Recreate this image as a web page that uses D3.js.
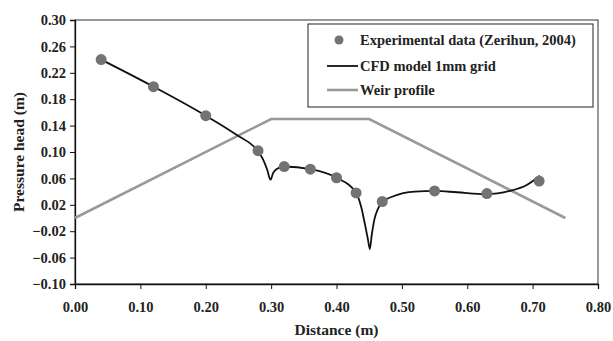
<!doctype html>
<html>
<head>
<meta charset="UTF-8">
<title>Pressure head</title>
<script src="https://cdn.jsdelivr.net/npm/d3@7"></script>
<style>
  body { margin: 0; background: #fff; }
  text { font-family: "Liberation Serif", "Times New Roman", serif; font-weight: bold; fill: #222; }
</style>
</head>
<body>
<svg width="613" height="341"></svg>
<script>
// experimental points
var expX = [0.04, 0.12, 0.20, 0.28, 0.32, 0.36, 0.40, 0.43, 0.47, 0.55, 0.63, 0.71];
var expY = [0.240, 0.199, 0.155, 0.102, 0.078, 0.074, 0.061, 0.038, 0.025, 0.041, 0.037, 0.056];

// CFD line
var cfdX = [0.04, 0.12, 0.20, 0.247, 0.28, 0.288, 0.294, 0.299, 0.303, 0.308, 0.32, 0.36, 0.40, 0.43, 0.438, 0.444, 0.448, 0.451, 0.454, 0.458, 0.463, 0.47, 0.487, 0.52, 0.55, 0.584, 0.628, 0.665, 0.691, 0.711];
var cfdY = [0.240, 0.199, 0.155, 0.126, 0.101, 0.088, 0.073, 0.058, 0.068, 0.074, 0.078, 0.074, 0.061, 0.038, 0.016, -0.012, -0.032, -0.047, -0.025, -0.002, 0.013, 0.024, 0.033, 0.040, 0.041, 0.039, 0.036, 0.041, 0.050, 0.064];

// weir outline
var weirX = [0.0, 0.30, 0.45, 0.75];
var weirY = [0.0, 0.15, 0.15, 0.0];

var xTicks = [0, 0.1, 0.2, 0.3, 0.4, 0.5, 0.6, 0.7, 0.8];
var yTicks = [-0.10, -0.06, -0.02, 0.02, 0.06, 0.10, 0.14, 0.18, 0.22, 0.26, 0.30];

var svg = d3.select('svg');
var pLeft = 75, pRight = 598, pTop = 20, pBottom = 284;

var x = d3.scaleLinear().domain([0, 0.8]).range([pLeft, pRight]);
var y = d3.scaleLinear().domain([-0.10, 0.30]).range([pBottom, pTop]);

// plot frame
svg.append('rect')
  .attr('x', pLeft).attr('y', pTop)
  .attr('width', pRight - pLeft).attr('height', pBottom - pTop)
  .attr('fill', 'none').attr('stroke', '#333').attr('stroke-width', 1);

var xAxis = svg.append('g')
  .attr('transform', 'translate(0,' + pBottom + ')')
  .call(d3.axisBottom(x).tickValues(xTicks).tickSize(5).tickPadding(13).tickFormat(d3.format('.2f')));
var yAxis = svg.append('g')
  .attr('transform', 'translate(' + pLeft + ',0)')
  .call(d3.axisLeft(y).tickValues(yTicks).tickSize(5).tickPadding(4).tickFormat(d3.format('.2f')));

[xAxis, yAxis].forEach(function(a) {
  a.select('.domain').attr('stroke', '#111').attr('stroke-width', 1.3);
  a.selectAll('.tick line').attr('stroke', '#111');
  a.selectAll('.tick text')
    .attr('fill', '#222')
    .style('font-family', '"Liberation Serif", serif')
    .style('font-weight', 'bold')
    .style('font-size', '14.5px');
});

// weir profile
svg.append('path')
  .datum(d3.range(weirX.length))
  .attr('fill', 'none')
  .attr('stroke', '#999')
  .attr('stroke-width', 2.6)
  .attr('d', d3.line().x(function(i) { return x(weirX[i]); }).y(function(i) { return y(weirY[i]); }));

// cfd model
svg.append('path')
  .datum(d3.range(cfdX.length))
  .attr('fill', 'none')
  .attr('stroke', '#111')
  .attr('stroke-width', 1.8)
  .attr('d', d3.line().curve(d3.curveMonotoneX)
    .x(function(i) { return x(cfdX[i]); }).y(function(i) { return y(cfdY[i]); }));

// experimental data
svg.append('g').selectAll('circle')
  .data(d3.range(expX.length))
  .enter().append('circle')
  .attr('cx', function(i) { return x(expX[i]); })
  .attr('cy', function(i) { return y(expY[i]); })
  .attr('r', 5.5)
  .attr('fill', '#737373');

// axis titles
svg.append('text')
  .attr('x', (pLeft + pRight) / 2).attr('y', 335)
  .attr('text-anchor', 'middle').style('font-size', '15.5px')
  .text('Distance (m)');
svg.append('text')
  .attr('transform', 'translate(24,' + ((pTop + pBottom) / 2) + ') rotate(-90)')
  .attr('text-anchor', 'middle').style('font-size', '15.5px')
  .text('Pressure head (m)');

// legend
var lg = svg.append('g');
lg.append('rect')
  .attr('x', 308).attr('y', 24).attr('width', 285).attr('height', 83)
  .attr('fill', '#fff').attr('stroke', '#222').attr('stroke-width', 1);
lg.append('circle').attr('cx', 339).attr('cy', 40).attr('r', 4.5).attr('fill', '#737373');
lg.append('line').attr('x1', 327).attr('x2', 358).attr('y1', 66).attr('y2', 66)
  .attr('stroke', '#111').attr('stroke-width', 1.8);
lg.append('line').attr('x1', 327).attr('x2', 358).attr('y1', 90).attr('y2', 90)
  .attr('stroke', '#999').attr('stroke-width', 2.6);
var labels = ['Experimental data (Zerihun, 2004)', 'CFD model 1mm grid', 'Weir profile'];
var rows = [40, 66, 90];
labels.forEach(function(t, i) {
  lg.append('text').attr('x', 360).attr('y', rows[i]).attr('dy', '0.35em')
    .style('font-size', '14.5px').text(t);
});
</script>
</body>
</html>
